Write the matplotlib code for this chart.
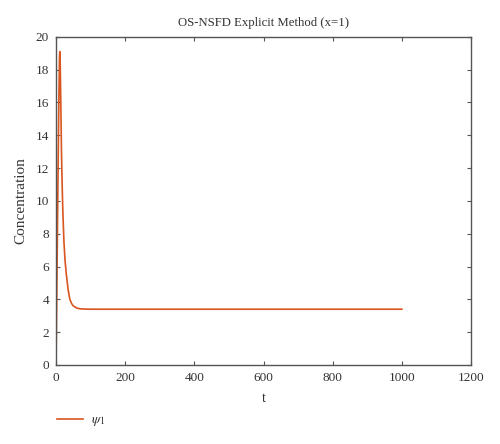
import matplotlib.pyplot as plt

plt.rcParams['font.family'] = ['Liberation Serif', 'DejaVu Serif']
plt.rcParams['mathtext.fontset'] = 'stix'

# 데이터
t = [0, 2, 4, 6, 8, 10, 11, 12, 14, 16, 18, 20, 23, 26, 30, 35, 40, 45, 50, 60, 70, 80, 100, 200, 1000]
psi1 = [0, 3.8, 7.8, 11.8, 15.6, 18.7, 19.1, 18.6, 15.8, 12.8, 10.8, 9.2, 7.5, 6.4, 5.5, 4.6, 4.0, 3.75, 3.6, 3.47, 3.42, 3.41, 3.4, 3.4, 3.4]

line_color = '#d9561f'
grey = '#555555'

fig = plt.figure(figsize=(5, 4.44), dpi=100)
ax = fig.add_axes([0.112, 0.178, 0.830, 0.739])

ax.plot(t, psi1, color=line_color, lw=1.2, label=r'$\psi_1$')

ax.set_xlim(0, 1200)
ax.set_ylim(0, 20)
ax.set_xticks(range(0, 1201, 200))
ax.set_yticks(range(0, 21, 2))

ax.tick_params(direction='in', top=True, right=True, length=3, width=0.8,
               colors=grey, labelcolor='#333333', labelsize=9.5, pad=5)
for s in ax.spines.values():
    s.set_color(grey)
    s.set_linewidth(1.0)

ax.set_title('OS-NSFD Explicit Method (x=1)', fontsize=9.2, color='#333333', pad=8)
ax.set_xlabel('t', fontsize=10, color='#333333', labelpad=6)
ax.set_ylabel('Concentration', fontsize=11, color='#333333', labelpad=6)

fig.legend(loc='center left', bbox_to_anchor=(0.088, 0.052), frameon=False, fontsize=10,
           handlelength=1.9, handletextpad=0.6, labelcolor='#333333')

plt.savefig('out.png', dpi=100)
